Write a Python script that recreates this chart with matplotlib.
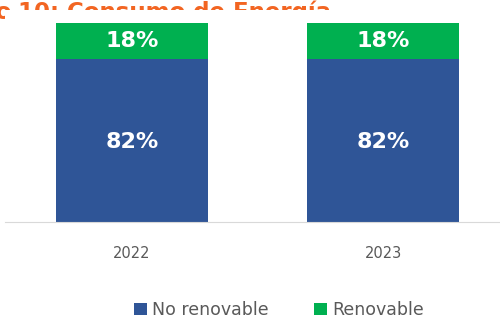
import matplotlib
matplotlib.use("Agg")
import matplotlib.pyplot as plt
import numpy as np

# data
years = ["2022", "2023"]
no_renovable = [82, 82]
renovable = [18, 18]

blue = "#2F5597"
green = "#00B050"
orange = "#F26522"

plt.rcParams['font.family'] = ['DejaVu Sans']

fig = plt.figure(figsize=(5.0, 3.18), dpi=100)

# title sits behind the chart area, only the top shows
fig.text(18/500, 1 - 19/318, "10: Consumo de Energía", color=orange,
         fontsize=16.5, fontweight='bold', ha='left', va='baseline', zorder=-1)
fig.text(12/500, 1 - 19/318, "Gráfico", color=orange,
         fontsize=16.5, fontweight='bold', ha='right', va='baseline', zorder=-1)

ax = fig.add_axes([5/500, 1 - 222/318, 495/500, 212/318])
ax.set_facecolor("white")

x = np.arange(len(years))
nr = np.array(no_renovable) / 100
rn = np.array(renovable) / 100
ax.bar(x, nr, width=0.606, color=blue, label="No renovable")
ax.bar(x, rn, width=0.606, bottom=nr, color=green, label="Renovable")

for i in range(len(years)):
    ax.text(x[i], nr[i] / 2 - 0.01, f"{no_renovable[i]}%", color="white",
            fontsize=16, fontweight='bold', ha='center', va='center')
    ax.text(x[i], nr[i] + rn[i] / 2, f"{renovable[i]}%", color="white",
            fontsize=16, fontweight='bold', ha='center', va='center')

ax.set_xlim(-0.506, 1.466)
ax.set_ylim(0, 1.065)
ax.set_xticks(x)
ax.set_xticklabels(years, color="#595959", fontsize=10.5)
ax.tick_params(axis='x', length=0, pad=17)
ax.set_yticks([])
for s in ["left", "right", "top"]:
    ax.spines[s].set_visible(False)
ax.spines["bottom"].set_color("#D9D9D9")

fig.legend(loc='center', bbox_to_anchor=(279/500, 1 - 310/318), ncol=2,
           frameon=False, fontsize=12.5, handlelength=0.75, handleheight=0.75,
           handletextpad=0.3, columnspacing=2.6, labelcolor="#595959",
           borderpad=0)

fig.savefig("out.png", dpi=100)
